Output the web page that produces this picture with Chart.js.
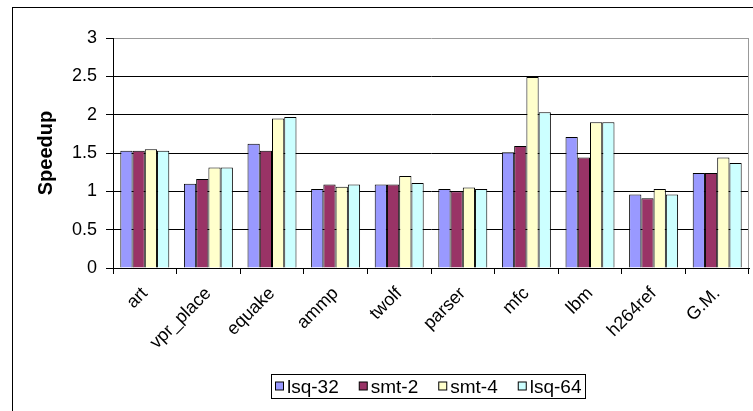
<!DOCTYPE html>
<html>
<head>
<meta charset="utf-8">
<script src="https://cdn.jsdelivr.net/npm/chart.js@4/dist/chart.umd.min.js"></script>
<style>
  html, body { margin: 0; padding: 0; background: #fff; overflow: hidden; }
  canvas { display: block; }
</style>
</head>
<body>
<canvas id="chart" width="753" height="411"></canvas>
<script>
// Benchmarks along the x axis
const categories = ['art', 'vpr_place', 'equake', 'ammp', 'twolf', 'parser', 'mfc', 'lbm', 'h264ref', 'G.M.'];

// Speedup per configuration
const lsq32 = [1.53, 1.10, 1.62, 1.03, 1.09, 1.03, 1.51, 1.71, 0.96, 1.24];
const smt2  = [1.53, 1.16, 1.53, 1.09, 1.09, 1.00, 1.59, 1.44, 0.91, 1.24];
const smt4  = [1.55, 1.31, 1.95, 1.06, 1.20, 1.05, 2.49, 1.90, 1.03, 1.44];
const lsq64 = [1.53, 1.31, 1.97, 1.09, 1.11, 1.03, 2.03, 1.90, 0.96, 1.37];

const seriesNames = ['lsq-32', 'smt-2', 'smt-4', 'lsq-64'];
const seriesValues = [lsq32, smt2, smt4, lsq64];
const seriesColors = ['#9999FF', '#993366', '#FFFFCC', '#CCFFFF'];

// Y axis ticks
const yTicks = [0, 0.5, 1, 1.5, 2, 2.5, 3];
const yTitle = 'Speedup';

const FONT = '"Liberation Sans", Arial, sans-serif';

// Outer frame, grey plot-area edge and the boxed legend under the plot
const decorations = {
  id: 'decorations',
  beforeDraw(chart) {
    const ctx = chart.ctx;
    ctx.save();
    ctx.fillStyle = '#fff';
    ctx.fillRect(0, 0, chart.width, chart.height);
    ctx.strokeStyle = '#000';
    ctx.lineWidth = 1;
    ctx.strokeRect(12.5, 7.5, chart.width + 10, chart.height + 10);
    ctx.restore();
  },
  afterDraw(chart) {
    const ctx = chart.ctx;
    const a = chart.chartArea;
    ctx.save();
    // right edge of the plot area
    ctx.strokeStyle = '#999';
    ctx.lineWidth = 1;
    ctx.beginPath();
    ctx.moveTo(Math.round(a.right) - 0.5, a.top);
    ctx.lineTo(Math.round(a.right) - 0.5, a.bottom);
    ctx.stroke();

    // legend
    const sets = chart.data.datasets;
    ctx.font = '19px ' + FONT;
    const sw = 8, gapSw = 4, gapItem = 20, padX = 4;
    const widths = sets.map(d => ctx.measureText(d.label).width);
    let total = padX * 2 + gapItem * (sets.length - 1);
    widths.forEach(w => { total += sw + gapSw + w; });
    const top = 374, h = 24;
    const left = Math.round((a.left + a.right) / 2 - total / 2) - 3;
    ctx.strokeStyle = '#000';
    ctx.strokeRect(left + 0.5, top + 0.5, Math.round(total), h);
    let x = left + padX;
    const cy = top + h / 2 + 0.5;
    ctx.textBaseline = 'middle';
    ctx.textAlign = 'left';
    sets.forEach((d, i) => {
      ctx.fillStyle = d.backgroundColor;
      ctx.fillRect(x + 0.5, cy - 4.5, sw, sw);
      ctx.strokeStyle = '#000';
      ctx.strokeRect(x + 0.5, cy - 4.5, sw, sw);
      x += sw + gapSw;
      ctx.fillStyle = '#000';
      ctx.fillText(d.label, x, cy + 1);
      x += widths[i] + gapItem;
    });
    ctx.restore();
  }
};

new Chart(document.getElementById('chart'), {
  type: 'bar',
  data: {
    labels: categories,
    datasets: seriesNames.map((name, i) => ({
      label: name,
      data: seriesValues[i],
      backgroundColor: seriesColors[i],
      borderColor: '#000',
      borderWidth: 1,
      barPercentage: 1.0,
      categoryPercentage: 0.77
    }))
  },
  options: {
    responsive: false,
    animation: false,
    devicePixelRatio: 1,
    layout: { padding: { left: 0, top: 38, right: 4, bottom: 0 } },
    plugins: {
      legend: { display: false },
      tooltip: { enabled: false }
    },
    scales: {
      x: {
        afterFit(scale) { scale.height = 143; },
        border: { color: '#000', width: 1 },
        grid: {
          drawOnChartArea: false,
          offset: true,
          color: '#000',
          tickLength: 6
        },
        ticks: {
          autoSkip: false,
          maxRotation: 45,
          minRotation: 45,
          padding: 9,
          color: '#000',
          font: { family: FONT, size: 18 }
        }
      },
      y: {
        min: 0,
        max: 3,
        afterFit(scale) { scale.width = 113; },
        afterBuildTicks(scale) { scale.ticks = yTicks.map(v => ({ value: v })); },
        border: { color: '#000', width: 1 },
        grid: {
          color: c => (c.tick && c.tick.value === 3) ? '#999' : '#000',
          tickColor: '#000',
          tickLength: 7
        },
        ticks: {
          padding: 9,
          color: '#000',
          font: { family: FONT, size: 18 },
          callback: v => String(v)
        },
        title: {
          display: true,
          text: yTitle,
          color: '#000',
          padding: { top: 34, bottom: 0 },
          font: { family: FONT, size: 20, weight: 'bold' }
        }
      }
    }
  },
  plugins: [decorations]
});
</script>
</body>
</html>
